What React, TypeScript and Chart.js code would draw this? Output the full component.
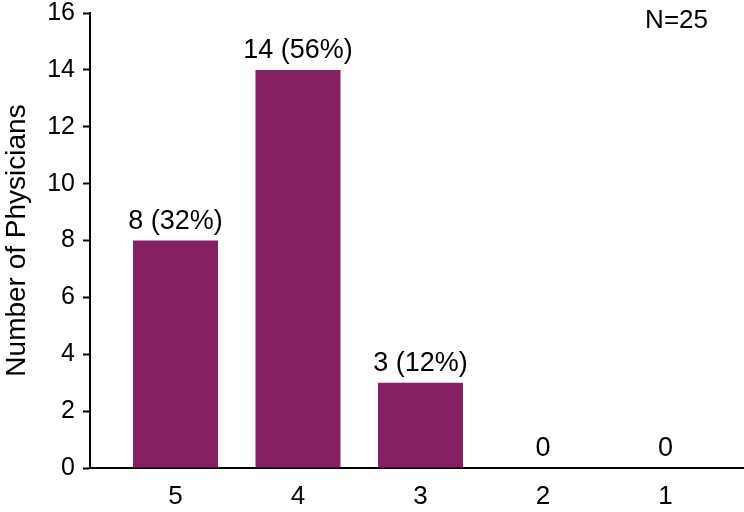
import React, { useEffect, useRef } from "react";
import { Chart, registerables } from "chart.js";

Chart.register(...registerables);

const categories = ["5", "4", "3", "2", "1"];
const physicianCounts = [8, 14, 3, 0, 0];
const totalN = 25;
const yTicks = [0, 2, 4, 6, 8, 10, 12, 14, 16];
const barColor = "#852062";
const FONT = "'Liberation Sans', Arial, sans-serif";

const labelPlugin = {
  id: "barLabels",
  afterDatasetsDraw(chart: any) {
    const ctx = chart.ctx;
    const meta = chart.getDatasetMeta(0);
    ctx.save();
    ctx.fillStyle = "#000";
    ctx.font = `27px ${FONT}`;
    ctx.textAlign = "center";
    ctx.textBaseline = "alphabetic";
    meta.data.forEach((bar: any, i: number) => {
      const v = physicianCounts[i];
      const txt = v === 0 ? "0" : `${v} (${Math.round((v / totalN) * 100)}%)`;
      ctx.fillText(txt, bar.x, bar.y - 12);
    });
    ctx.textAlign = "right";
    ctx.font = `26px ${FONT}`;
    ctx.fillText(`N=${totalN}`, 708, 28);
    ctx.restore();
  },
};

export default function App() {
  const ref = useRef<HTMLCanvasElement>(null);
  useEffect(() => {
    if (!ref.current) return;
    const chart = new Chart(ref.current, {
      type: "bar",
      data: {
        datasets: [
          {
            data: physicianCounts.map((v, i) => ({ x: i + 1, y: v })),
            backgroundColor: barColor,
            borderWidth: 0,
            categoryPercentage: 1,
            barPercentage: 0.694,
          },
        ],
      },
      options: {
        animation: false,
        responsive: false,
        maintainAspectRatio: false,
        layout: { padding: { top: 13, right: 0, left: 0, bottom: 0 } },
        plugins: { legend: { display: false }, tooltip: { enabled: false } },
        scales: {
          x: {
            type: "linear",
            offset: false,
            min: 0.302,
            max: 5.641,
            afterBuildTicks: (scale: any) => {
              scale.ticks = categories.map((_, i) => ({ value: i + 1 }));
            },
            afterFit: (scale: any) => {
              scale.height = 44;
              scale.paddingLeft = 0;
              scale.paddingRight = 0;
            },
            grid: { display: false, drawTicks: false },
            border: { display: true, color: "#000", width: 2 },
            ticks: {
              autoSkip: false,
              color: "#000",
              font: { family: FONT, size: 26 },
              padding: 13,
              maxRotation: 0,
              callback: (v: any) => categories[Number(v) - 1] ?? "",
            },
          },
          y: {
            min: 0,
            max: 16,
            afterBuildTicks: (scale: any) => {
              scale.ticks = yTicks.map((v) => ({ value: v }));
            },
            afterFit: (scale: any) => {
              scale.width = 90;
              scale.paddingTop = 0;
              scale.paddingBottom = 0;
            },
            grid: {
              display: true,
              drawOnChartArea: false,
              drawTicks: true,
              tickLength: 7,
              tickWidth: 2,
              tickColor: "#000",
            },
            border: { display: true, color: "#000", width: 2 },
            ticks: {
              color: "#000",
              font: { family: FONT, size: 25, lineHeight: 1.0 },
              padding: 8,
            },
            title: {
              display: true,
              text: "Number of Physicians",
              color: "#000",
              font: { family: FONT, size: 28 },
              padding: { top: 0, bottom: 0 },
            },
          },
        },
      },
      plugins: [labelPlugin],
    } as any);
    return () => chart.destroy();
  }, []);
  return (
    <div style={{ position: "fixed", left: 0, top: 0, width: 744, height: 512, background: "#fff" }}>
      <canvas ref={ref} width={744} height={512} style={{ width: 744, height: 512 }} />
    </div>
  );
}
